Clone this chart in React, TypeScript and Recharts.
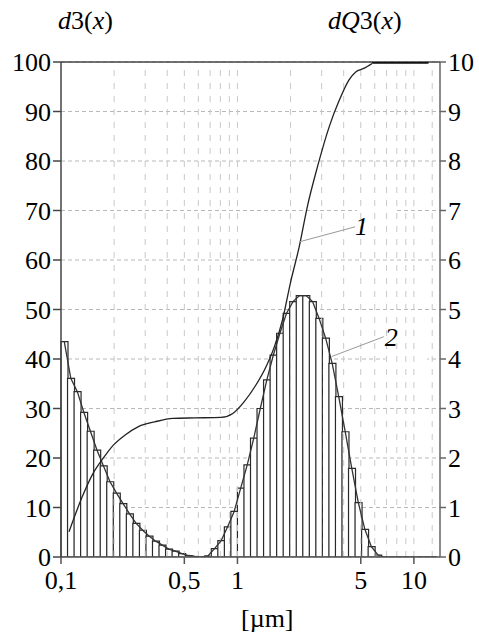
import React from 'react';
import {
  ComposedChart,
  Bar,
  Line,
  XAxis,
  YAxis,
  CartesianGrid,
  ReferenceLine,
  ReferenceArea,
  ReferenceDot,
} from 'recharts';

// Histogram dQ3 per logarithmic size bin (58 bins from 0.1 µm), right axis units
const dQ3Bins = [
  4.35, 3.61, 3.34, 2.92, 2.54, 2.16, 1.84, 1.52, 1.29, 1.08, 0.87, 0.68, 0.54, 0.42, 0.32, 0.24, 0.16, 0.12, 0.07, 0.03, 0.01,
  0,
  0.02, 0.17, 0.33, 0.61, 0.92, 1.39, 1.86, 2.4, 3.0, 3.58, 4.08, 4.52, 4.92, 5.16, 5.28, 5.28, 5.16, 4.82, 4.42, 3.91, 3.24, 2.53, 1.79, 1.1, 0.56, 0.21, 0.04,
  0, 0, 0, 0, 0, 0, 0, 0, 0,
];

// Cumulative curve Q3 (left axis)
const q3X = [0.111, 0.131, 0.152, 0.173, 0.198, 0.23, 0.273, 0.34, 0.431, 0.572, 0.806, 0.941, 1.093, 1.27, 1.45, 1.62, 1.8, 2.0, 2.24, 2.49, 2.84, 3.31, 3.78, 4.29, 4.68, 5.2, 5.8];
const q3Y = [5.1, 11.9, 16.9, 19.9, 22.6, 24.6, 26.3, 27.3, 28.0, 28.1, 28.2, 29.0, 31.4, 34.7, 38.4, 42.5, 47.9, 55.5, 62.7, 70.8, 78.8, 86.9, 92.3, 96.4, 98.0, 98.7, 99.7];
const tailX = [5.8, 12.1];
const tailY = [100, 100];

const xTicks = [0.1, 0.5, 1, 5, 10];
const xTickLabels = ['0,1', '0,5', '1', '5', '10'];
const leftTicks = [0, 10, 20, 30, 40, 50, 60, 70, 80, 90, 100];
const rightTicks = [0, 1, 2, 3, 4, 5, 6, 7, 8, 9, 10];
const gridX = [0.2, 0.3, 0.4, 0.5, 0.6, 0.7, 0.8, 0.9, 1, 2, 3, 4, 5, 6, 7, 8, 9, 10, 12.7];
const X_MIN = 0.1;
const X_MAX = 14.06;

const binTable = dQ3Bins.map((v, i) => ({ bin: i, dQ3: v }));
const q3Table = q3X.map((x, i) => ({ x, q3: q3Y[i] }));
const tailTable = tailX.map((x, i) => ({ x, q3: tailY[i] }));

const FONT = "'Liberation Serif', 'DejaVu Serif', serif";
const tickStyle = { fill: '#000', fontSize: 26, fontFamily: FONT };

const annLabel = (t: string) => (props: any) => {
  const vb = props.viewBox || {};
  const cx = (vb.x || 0) + (vb.width || 0) / 2;
  const cy = (vb.y || 0) + (vb.height || 0) / 2;
  return (
    <text x={cx} y={cy} dy="0.35em" textAnchor="middle" fontFamily={FONT} fontStyle="italic" fontSize={26} fill="#000">
      {t}
    </text>
  );
};

export default function App() {
  return (
    <div style={{ position: 'fixed', left: 0, top: 0, width: 479, height: 632, overflow: 'hidden', background: '#fff' }}>
      <ComposedChart
        width={479}
        height={632}
        data={binTable}
        margin={{ top: 62, right: 0, bottom: 0, left: 0 }}
        barCategoryGap={0}
        barGap={0}
      >
        <CartesianGrid xAxisId="num" yAxisId="left" vertical={false} stroke="#b8b8b8" strokeDasharray="4 3" />
        {gridX.map((g) => (
          <ReferenceLine key={g} xAxisId="num" yAxisId="left" x={g} stroke="#c8c8c8" strokeDasharray="6 7" />
        ))}
        <XAxis
          xAxisId="num"
          dataKey="x"
          type="number"
          scale="log"
          domain={[X_MIN, X_MAX]}
          allowDataOverflow
          ticks={xTicks}
          interval={0}
          height={75}
          tickSize={7}
          tickMargin={7}
          stroke="#555"
          strokeWidth={1.5}
          tick={tickStyle}
          tickFormatter={(v: number) => xTickLabels[xTicks.indexOf(v)] ?? String(v)}
        />
        <XAxis xAxisId="cat" dataKey="bin" type="category" orientation="top" height={0} hide />
        <YAxis
          yAxisId="left"
          domain={[0, 100]}
          ticks={leftTicks}
          interval={0}
          width={61}
          tickSize={8}
          tickMargin={2}
          stroke="#444"
          strokeWidth={1.5}
          tick={tickStyle}
          allowDataOverflow
        />
        <YAxis
          yAxisId="right"
          orientation="right"
          domain={[0, 10]}
          ticks={rightTicks}
          interval={0}
          width={39}
          tickSize={6}
          tickMargin={2}
          stroke="#666"
          strokeWidth={1.5}
          tick={tickStyle}
          allowDataOverflow
        />
        <ReferenceLine xAxisId="num" yAxisId="left" y={100} stroke="#444" strokeWidth={1.5} />
        <ReferenceArea xAxisId="num" yAxisId="left" x1={4.75} x2={8.0} y1={63.5} y2={70.5} fill="#fff" fillOpacity={1} stroke="none" />
        <ReferenceArea xAxisId="num" yAxisId="left" x1={6.9} x2={11.9} y1={39.4} y2={48} fill="#fff" fillOpacity={1} stroke="none" />
        <Bar xAxisId="cat" yAxisId="right" dataKey="dQ3" fill="#fff" stroke="#2a2a2a" strokeWidth={1.2} isAnimationActive={false} />
        <Line xAxisId="cat" yAxisId="right" dataKey="dQ3" type="linear" stroke="#333" strokeWidth={1.3} dot={false} isAnimationActive={false} />
        <Line xAxisId="num" yAxisId="left" data={q3Table} dataKey="q3" type="monotone" stroke="#222" strokeWidth={1.3} dot={false} isAnimationActive={false} />
        <Line xAxisId="num" yAxisId="left" data={tailTable} dataKey="q3" type="linear" stroke="#111" strokeWidth={3.5} dot={false} isAnimationActive={false} />
        <ReferenceLine xAxisId="num" yAxisId="left" segment={[{ x: 2.26, y: 63.7 }, { x: 4.64, y: 66.7 }]} stroke="#999" strokeWidth={1} />
        <ReferenceLine xAxisId="num" yAxisId="left" segment={[{ x: 3.42, y: 40.5 }, { x: 6.75, y: 44.5 }]} stroke="#999" strokeWidth={1} />
        <ReferenceDot xAxisId="num" yAxisId="left" x={5.05} y={66.9} r={0} fill="none" stroke="none" label={{ content: annLabel('1') }} />
        <ReferenceDot xAxisId="num" yAxisId="left" x={7.43} y={44.4} r={0} fill="none" stroke="none" label={{ content: annLabel('2') }} />
      </ComposedChart>
      <div style={{ position: 'absolute', left: 58, top: 8, fontFamily: FONT, fontSize: 26, lineHeight: 1, whiteSpace: 'nowrap', color: '#000' }}>
        <i>d</i>3(<i>x</i>)
      </div>
      <div style={{ position: 'absolute', left: 328, top: 8, fontFamily: FONT, fontSize: 26, lineHeight: 1, whiteSpace: 'nowrap', color: '#000' }}>
        <i>dQ</i>3(<i>x</i>)
      </div>
      <div style={{ position: 'absolute', left: 241, top: 606, fontFamily: FONT, fontSize: 26, lineHeight: 1, whiteSpace: 'nowrap', color: '#000' }}>
        [µm]
      </div>
    </div>
  );
}
